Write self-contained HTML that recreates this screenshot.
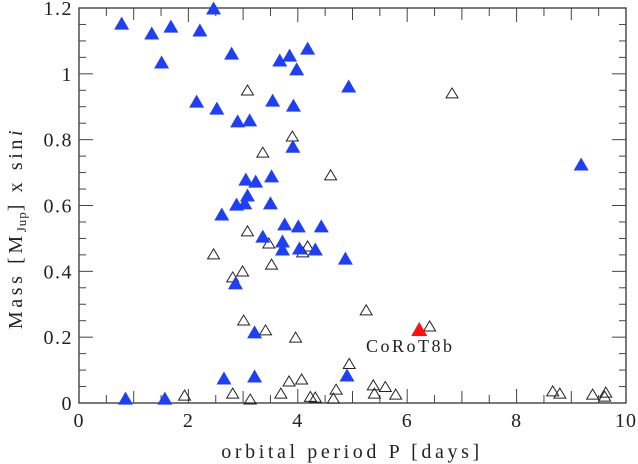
<!DOCTYPE html>
<html><head><meta charset="utf-8">
<style>
html,body{margin:0;padding:0;background:#fff;}
svg{display:block;font-family:"Liberation Serif",serif;}
</style></head>
<body>
<svg id="chart" width="638" height="464" viewBox="0 0 638 464" xmlns="http://www.w3.org/2000/svg">
<g id="axes"></g>
<g id="marks"></g>
<text x="352" y="458" text-anchor="middle" font-size="20" fill="#222" letter-spacing="3.6">orbital period P [days]</text>
<text transform="translate(22,228) rotate(-90)" text-anchor="middle" font-size="20" fill="#222" letter-spacing="3.6">Mass [M<tspan font-size="13" dy="4" letter-spacing="1">Jup</tspan><tspan dy="-4">] x sin</tspan><tspan font-style="italic">i</tspan></text>
<text x="366" y="352" font-size="18" fill="#222" letter-spacing="2.5">CoRoT8b</text>
</svg>
<script>
const xTicks = [0, 2, 4, 6, 8, 10];
const yTicks = [0, 0.2, 0.4, 0.6, 0.8, 1, 1.2];
const yTickLabels = ["0", "0.2", "0.4", "0.6", "0.8", "1", "1.2"];
const blueP = [0.78,1.33,1.68,2.21,1.51,2.46,2.79,3.67,3.85,4.18,3.98,2.15,2.52,3.54,3.92,4.93,2.90,3.12,3.91,9.18,3.05,3.23,3.52,3.08,3.03,2.88,3.50,2.61,3.76,4.01,4.43,3.36,3.72,3.72,4.03,4.32,4.87,2.86,3.21,2.65,3.21,4.90,0.85,1.57];
const blueM = [1.154,1.124,1.145,1.133,1.036,1.2,1.063,1.042,1.057,1.078,1.015,0.917,0.896,0.92,0.905,0.963,0.857,0.86,0.78,0.726,0.68,0.674,0.69,0.632,0.608,0.604,0.608,0.574,0.544,0.538,0.538,0.507,0.492,0.468,0.471,0.468,0.44,0.365,0.216,0.076,0.082,0.085,0.015,0.015];
const openP = [3.08,3.90,3.36,4.60,6.82,3.08,2.46,3.47,3.52,2.81,2.99,4.09,4.18,3.01,3.41,3.96,5.25,6.41,1.93,2.81,3.13,3.69,3.84,4.07,4.23,4.32,4.65,4.70,4.94,5.38,5.40,5.60,5.79,8.66,8.79,9.39,9.63,9.61];
const openM = [0.951,0.811,0.762,0.693,0.942,0.523,0.453,0.486,0.422,0.383,0.401,0.459,0.477,0.252,0.222,0.2,0.283,0.234,0.024,0.03,0.012,0.03,0.067,0.073,0.02,0.018,0.015,0.042,0.12,0.055,0.03,0.05,0.027,0.037,0.03,0.027,0.033,0.021];
const redP = [6.22];
const redM = [0.225];

const L=79,R=626,T=8,B=403;
const xs = v => L + v/10*(R-L);
const ys = v => B - v/1.2*(B-T);
const NS="http://www.w3.org/2000/svg";
function mk(tag, parent, attrs){const e=document.createElementNS(NS,tag);for(const k in attrs)e.setAttribute(k,attrs[k]);parent.appendChild(e);return e;}
const axes=document.getElementById('axes');
const frame=mk('rect',axes,{x:L,y:T,width:R-L,height:B-T,fill:'none',stroke:'#333','stroke-width':1.3});


for(let i=0;i<=20;i++){const v=i*0.5,x=xs(v),len=(i%4===0)?0:(i%2===0?12:8);
  if(i%4===0 && i!==0 && i!==20){mk('line',axes,{x1:x,y1:B,x2:x,y2:B-14,stroke:'#444'});mk('line',axes,{x1:x,y1:T,x2:x,y2:T+14,stroke:'#444'});}
  else if(len){mk('line',axes,{x1:x,y1:B,x2:x,y2:B-len,stroke:'#444'});mk('line',axes,{x1:x,y1:T,x2:x,y2:T+len,stroke:'#444'});}
}
for(let i=0;i<=24;i++){const v=i*0.05,y=ys(v),len=(i%4===0)?14:7;
  if(i===0||i===24)continue;
  mk('line',axes,{x1:L,y1:y,x2:L+len,y2:y,stroke:'#444'});mk('line',axes,{x1:R,y1:y,x2:R-len,y2:y,stroke:'#444'});
}
xTicks.forEach(v=>{const t=mk('text',axes,{x:xs(v),y:B+24,'text-anchor':'middle','font-size':20,fill:'#222','letter-spacing':1});t.textContent=String(v);
  
  });
yTicks.forEach((v,i)=>{const t=mk('text',axes,{x:L-6,y:ys(v)+7,'text-anchor':'end','font-size':20,fill:'#222','letter-spacing':1.5});t.textContent=yTickLabels[i];
  
  });
const marks=document.getElementById('marks');
function tri(x,y,w,h){return `${x-w/2},${y+h/2} ${x+w/2},${y+h/2} ${x},${y-h/2}`;}
openP.forEach((p,i)=>{const e=mk('polygon',marks,{points:tri(xs(p),ys(openM[i]),12,10),fill:'none',stroke:'#222','stroke-width':1});
  
  });
blueP.forEach((p,i)=>{const e=mk('polygon',marks,{points:tri(xs(p),ys(blueM[i]),15,13),fill:'#1f3ff7'});
  
  });
redP.forEach((p,i)=>{const e=mk('polygon',marks,{points:tri(xs(p),ys(redM[i]),16,14),fill:'#ff1010'});
  
  });
</script>
</body></html>
